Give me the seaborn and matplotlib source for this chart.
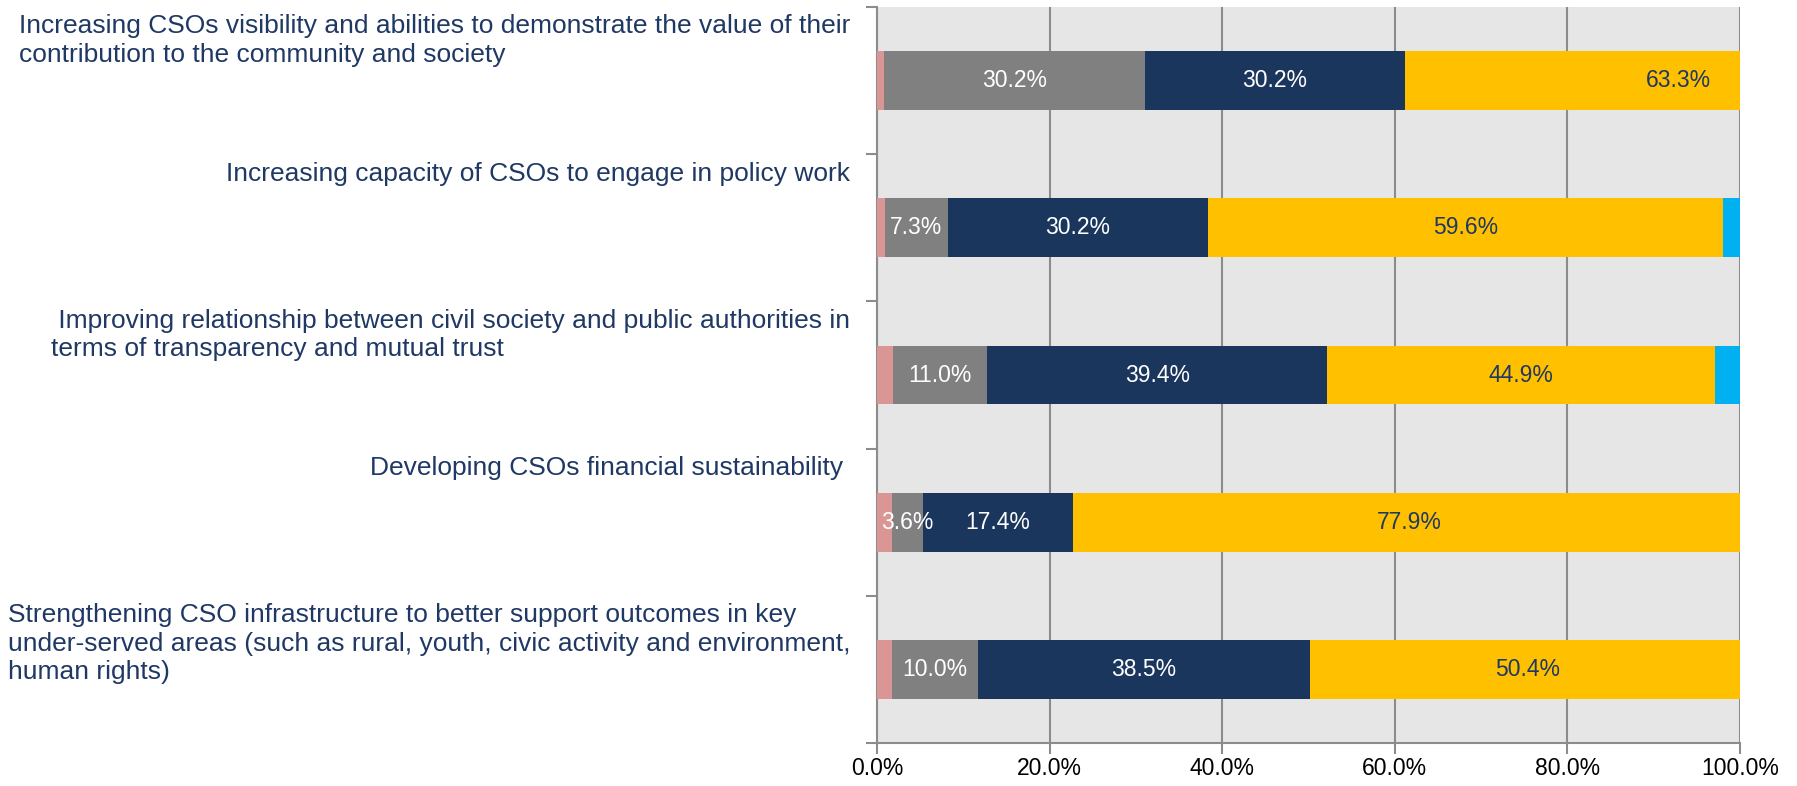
import matplotlib
matplotlib.use("Agg")
import matplotlib.pyplot as plt
import matplotlib.transforms as mtransforms
import numpy as np
import pandas as pd
import seaborn as sns

categories = [
    "Increasing CSOs visibility and abilities to demonstrate the value of their\ncontribution to the community and society",
    "Increasing capacity of CSOs to engage in policy work",
    " Improving relationship between civil society and public authorities in\nterms of transparency and mutual trust",
    "Developing CSOs financial sustainability ",
    "Strengthening CSO infrastructure to better support outcomes in key\nunder-served areas (such as rural, youth, civic activity and environment,\nhuman rights)",
]
series_names = ["s1", "s2", "s3", "s4", "s5"]
pink = [0.8, 0.9, 1.8, 1.7, 1.7]
grey = [30.2, 7.3, 11.0, 3.6, 10.0]
navy = [30.2, 30.2, 39.4, 17.4, 38.5]
yellow = [63.3, 59.6, 44.9, 77.9, 50.4]
cyan = [0.0, 2.0, 2.9, 0.0, 0.0]
x_ticks = [0, 20, 40, 60, 80, 100]
x_tick_labels = ["0.0%", "20.0%", "40.0%", "60.0%", "80.0%", "100.0%"]

series = [pink, grey, navy, yellow, cyan]
colors = ["#D99694", "#808080", "#1A365D", "#FFC000", "#00B0F0"]
label_colors = [None, "white", "white", "#1F3864", None]
text_color = "#1F3864"

sns.set_theme(style="white")
plt.rcParams["font.family"] = ["Liberation Sans", "DejaVu Sans"]

fig = plt.figure(figsize=(17.97, 7.86), dpi=100)
ax = fig.add_axes([877 / 1797, 43 / 786, 863 / 1797, 736 / 786])
ax.set_facecolor("#E6E6E6")

cum = np.cumsum(np.array(series), axis=0)
# draw cumulative totals from outermost to innermost so they stack
for k in range(len(series) - 1, -1, -1):
    df = pd.DataFrame({"cat": categories, "val": cum[k]})
    sns.barplot(data=df, x="val", y="cat", orient="h", color=colors[k],
                width=0.4, saturation=1, ax=ax, linewidth=0, zorder=3)

# data labels
for k, vals in enumerate(series):
    if label_colors[k] is None:
        continue
    starts = cum[k] - np.array(vals)
    for i, v in enumerate(vals):
        cx = starts[i] + v / 2
        ax.text(cx, i, f"{v:.1f}%", ha="center", va="center",
                color=label_colors[k], fontsize=16.5, zorder=5)

ax.set_xlim(0, 100)
ax.set_ylim(len(categories) - 0.5, -0.5)
ax.set_xticks(x_ticks)
ax.set_xticklabels(x_tick_labels, fontsize=16.5, color="black")
ax.set_yticks(np.arange(-0.5, len(categories), 1.0))
ax.set_yticklabels([])
ax.set_xlabel("")
ax.set_ylabel("")
ax.xaxis.grid(True, color="#8C8C8C", linewidth=1.5, zorder=0)
ax.yaxis.grid(False)
ax.set_axisbelow(True)
for s in ["top", "right"]:
    ax.spines[s].set_visible(False)
for s in ["left", "bottom"]:
    ax.spines[s].set_color("#8C8C8C")
    ax.spines[s].set_linewidth(1.5)
ax.tick_params(axis="both", which="both", direction="out", length=8,
               width=1.5, color="#8C8C8C", left=True, bottom=True, pad=2)

# category labels above each bar
trans = mtransforms.blended_transform_factory(ax.transAxes, ax.transData)
for i, c in enumerate(categories):
    ax.text(-0.031, i - 0.5 + 0.05, c, transform=trans, ha="right", va="top",
            multialignment="left", fontsize=19.0, color=text_color,
            linespacing=1.24)

fig.savefig("out.png", dpi=100)
